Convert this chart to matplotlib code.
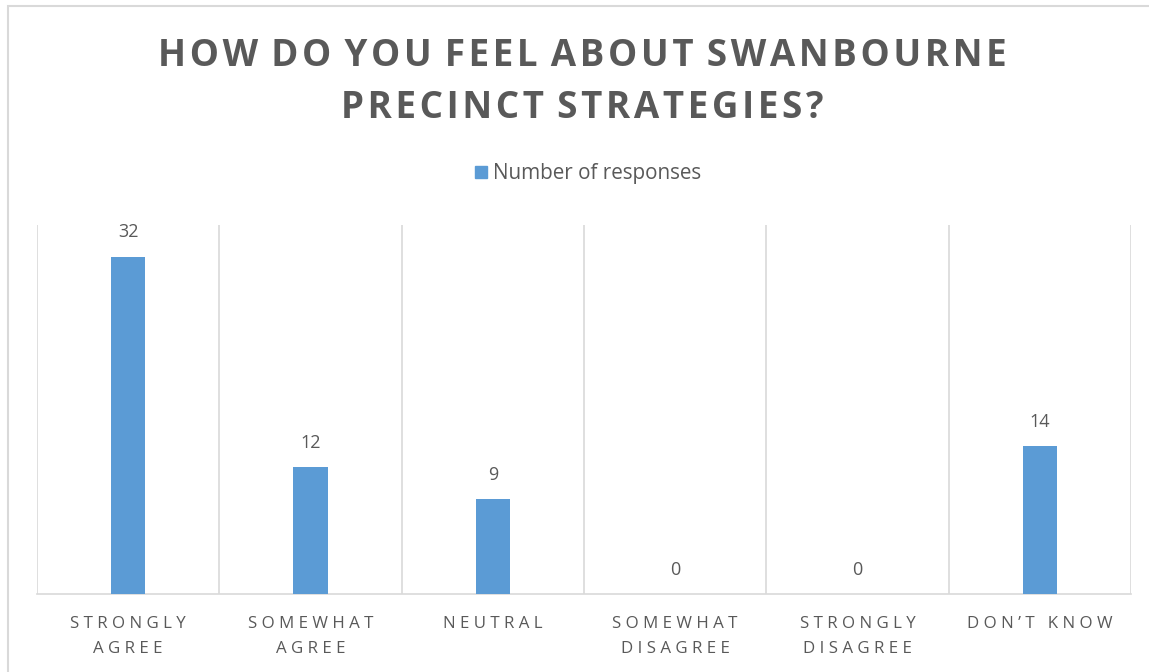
import numpy as np
import matplotlib.pyplot as plt
from matplotlib.patches import Rectangle

categories = ["STRONGLY\nAGREE", "SOMEWHAT\nAGREE", "NEUTRAL",
              "SOMEWHAT\nDISAGREE", "STRONGLY\nDISAGREE", "DON\u2019T KNOW"]
responses = [32, 12, 9, 0, 0, 14]
series_name = "Number of responses"
title = "HOW DO YOU FEEL ABOUT SWANBOURNE\nPRECINCT STRATEGIES?"

bar_color = "#5B9BD5"
text_gray = "#595959"
grid_gray = "#D9D9D9"

plt.rcParams['font.family'] = ['Open Sans', 'DejaVu Sans']


def spaced(s, gap=" ", word_gap=None):
    # fake letter spacing: put a gap between letters, wider between words
    if word_gap is None:
        word_gap = gap * 3
    lines = []
    for line in s.split("\n"):
        words = [gap.join(w) for w in line.split(" ")]
        lines.append(word_gap.join(words))
    return "\n".join(lines)


fig = plt.figure(figsize=(11.49, 6.72), dpi=100)
W, H = 1149, 672

# chart border
fig.patches.append(Rectangle((7.5 / W, -0.1), 1.2, 1 - 5.5 / H + 0.1,
                             transform=fig.transFigure, fill=False,
                             edgecolor=grid_gray, linewidth=1.5))

ax = fig.add_axes([37 / W, 1 - 594 / H, (1131 - 37) / W, (594 - 225) / H])
x = np.arange(len(categories))
bars = ax.bar(x, responses, width=0.19, color=bar_color, zorder=3)

ax.set_xlim(-0.5, len(categories) - 0.5)
ax.set_ylim(0, 35)
for b in np.arange(len(categories) + 1) - 0.5:
    ax.axvline(b, color=grid_gray, linewidth=1.2, zorder=1)

for s in ["top", "left", "right"]:
    ax.spines[s].set_visible(False)
ax.spines["bottom"].set_color(grid_gray)
ax.spines["bottom"].set_linewidth(1.2)
ax.set_yticks([])
ax.set_xticks(x)
ax.set_xticklabels([spaced(c) for c in categories], color=text_gray,
                   fontsize=12.2, linespacing=1.75)
ax.tick_params(axis="x", length=0, pad=16)

for xi, v in zip(x, responses):
    ax.annotate(str(v), (xi, v), xytext=(0, 11), textcoords="offset points",
                ha="center", va="bottom", color=text_gray, fontsize=13)

fig.text(0.507, 1 - 82 / H, spaced(title, "\u200a", " \u200a"),
         ha="center", va="center", fontsize=26.5, fontweight="bold",
         color=text_gray, linespacing=1.48)

# legend
fig.patches.append(Rectangle((475 / W, 1 - 178 / H), 12 / W, 12 / H,
                             transform=fig.transFigure, color=bar_color))
fig.text(493 / W, 1 - 174 / H, series_name, ha="left", va="center",
         fontsize=14.9, color=text_gray)

fig.savefig("out.png", dpi=100)
